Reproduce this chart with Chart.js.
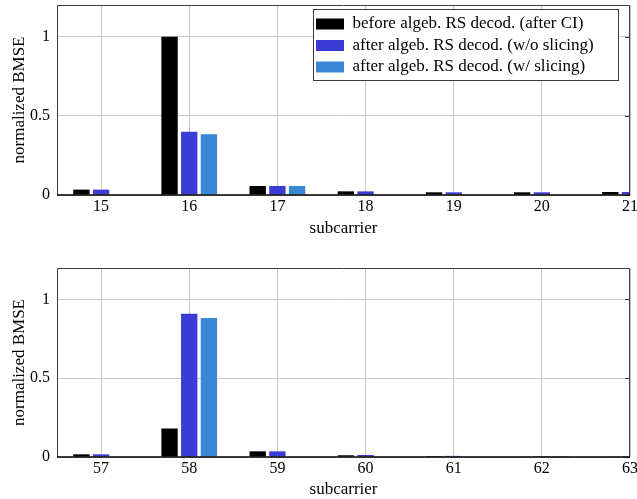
<!DOCTYPE html>
<html>
<head>
<meta charset="utf-8">
<script src="https://cdn.jsdelivr.net/npm/chart.js@4.4.1/dist/chart.umd.min.js"></script>
<style>
  html, body { margin: 0; padding: 0; background: #fff; }
  .panel { position: relative; width: 637px; }
  #topPanel { height: 250px; }
  #bottomPanel { height: 249px; }
</style>
</head>
<body>
<div class="panel" id="topPanel"><canvas id="topChart"></canvas></div>
<div class="panel" id="bottomPanel"><canvas id="bottomChart"></canvas></div>
<script>
// Data
const topSubcarriers = [15, 16, 17, 18, 19, 20, 21];
const bottomSubcarriers = [57, 58, 59, 60, 61, 62, 63];
const yTicks = [0, 0.5, 1];

const seriesNames = [
  "before algeb. RS decod. (after CI)",
  "after algeb. RS decod. (w/o slicing)",
  "after algeb. RS decod. (w/ slicing)",
];
const seriesColors = ["#000000", "#3b3bd5", "#3a87d6"];

const topBefore = [0.034, 1.0, 0.057, 0.023, 0.017, 0.017, 0.019];
const topNoSlicing = [0.034, 0.4, 0.057, 0.023, 0.017, 0.017, 0.019];
const topSlicing = [0.004, 0.383, 0.057, 0.004, 0.004, 0.004, 0.004];

const bottomBefore = [0.017, 0.181, 0.036, 0.011, 0.006, 0.004, 0.004];
const bottomNoSlicing = [0.017, 0.909, 0.036, 0.013, 0.007, 0.006, 0.005];
const bottomSlicing = [0.003, 0.882, 0.003, 0.004, 0.003, 0.006, 0.003];

Chart.defaults.font.family = '"Liberation Serif", "Times New Roman", serif';
Chart.defaults.font.size = 16;
Chart.defaults.color = "#000";

// frame around the plot area + small ticks on the right edge
const framePlugin = {
  id: "frame",
  afterDatasetsDraw(chart) {
    const { ctx, chartArea: a, scales } = chart;
    ctx.save();
    ctx.strokeStyle = "#3c3c3c";
    ctx.lineWidth = 1;
    ctx.beginPath();
    ctx.moveTo(a.left + 0.5, a.bottom);
    ctx.lineTo(a.left + 0.5, a.top + 0.5);
    ctx.lineTo(a.right - 0.5, a.top + 0.5);
    ctx.lineTo(a.right - 0.5, a.bottom);
    yTicks.forEach((v) => {
      const y = Math.round(scales.y.getPixelForValue(v)) + 0.5;
      ctx.moveTo(a.right - 5, y);
      ctx.lineTo(a.right, y);
    });
    ctx.stroke();
    ctx.strokeStyle = "#000";
    ctx.lineWidth = 1.5;
    ctx.beginPath();
    ctx.moveTo(a.left, a.bottom);
    ctx.lineTo(a.right, a.bottom);
    ctx.stroke();
    ctx.restore();
  },
};

// legend placed at top right inside the plot, with a white framed box
const legendBoxPlugin = {
  id: "legendBox",
  afterLayout(chart) {
    const lg = chart.legend;
    if (!lg || !lg.options.display) return;
    const a = chart.chartArea;
    lg.left = a.left + 254.5;
    lg.top = a.top + 6;
    lg.right = a.right - 12;
    lg.bottom = a.top + 76;
    lg.width = lg.right - lg.left;
    lg.height = lg.bottom - lg.top;
  },
  beforeDatasetsDraw(chart) {
    const lg = chart.legend;
    if (!lg || !lg.options.display) return;
    const { ctx, chartArea: a } = chart;
    const x = Math.round(a.left + 256) + 0.5;
    const y = Math.round(a.top + 4) + 0.5;
    const w = Math.round(a.right - 12) - Math.round(a.left + 256);
    const h = 71;
    ctx.save();
    ctx.fillStyle = "#fff";
    ctx.fillRect(x, y, w, h);
    ctx.strokeStyle = "#3c3c3c";
    ctx.lineWidth = 1;
    ctx.strokeRect(x, y, w, h);
    ctx.restore();
    lg.draw();
  },
};

function makeChart(canvasId, categories, values, opts) {
  const ctx = document.getElementById(canvasId).getContext("2d");
  return new Chart(ctx, {
    type: "bar",
    data: {
      labels: categories,
      datasets: values.map((vals, i) => ({
        label: seriesNames[i],
        data: vals,
        backgroundColor: seriesColors[i],
        borderWidth: 0,
        clip: 0,
        categoryPercentage: 0.67,
        barPercentage: 0.83,
      })),
    },
    options: {
      responsive: true,
      maintainAspectRatio: false,
      animation: false,
      layout: { padding: { top: opts.padTop, left: 0, right: 7, bottom: 0 } },
      scales: {
        x: {
          type: "linear",
          min: categories[0] - 0.5,
          max: categories[categories.length - 1],
          offset: false,
          afterBuildTicks: (scale) => {
            scale.ticks = categories.map((v) => ({ value: v }));
          },
          afterFit: (scale) => {
            scale.height = opts.xHeight;
            scale.paddingLeft = 0;
            scale.paddingRight = 0;
          },
          grid: { color: "#c8c8c8", drawTicks: false, offset: false },
          border: { display: false },
          ticks: {
            padding: 2,
            autoSkip: false,
            maxRotation: 0,
            font: { size: 16 },
            callback: (v) => String(v),
          },
          title: {
            display: true,
            text: "subcarrier",
            font: { size: 17, lineHeight: 1 },
            padding: { top: 0, bottom: opts.titlePad },
          },
        },
        y: {
          min: 0,
          max: 1.2,
          afterBuildTicks: (scale) => {
            scale.ticks = yTicks.map((v) => ({ value: v }));
          },
          afterFit: (scale) => {
            scale.width = 57;
            scale.paddingTop = 0;
            scale.paddingBottom = 0;
          },
          grid: { color: "#c8c8c8", drawTicks: false },
          border: { display: false },
          ticks: { padding: 7, font: { size: 16 }, callback: (v) => String(v) },
          title: {
            display: true,
            text: "normalized BMSE",
            font: { size: 17, lineHeight: 1 },
            padding: { top: 11.5, bottom: 0 },
          },
        },
      },
      plugins: {
        legend: {
          display: opts.legend,
          position: "chartArea",
          align: "start",
          labels: {
            boxWidth: 28,
            boxHeight: 11,
            padding: 4.5,
            color: "#000",
            font: { size: 17 },
          },
        },
        tooltip: { enabled: false },
      },
    },
    plugins: [legendBoxPlugin, framePlugin],
  });
}

const topChart = makeChart(
  "topChart",
  topSubcarriers,
  [topBefore, topNoSlicing, topSlicing],
  { padTop: 5, xHeight: 55, titlePad: 13, legend: true }
);

const bottomChart = makeChart(
  "bottomChart",
  bottomSubcarriers,
  [bottomBefore, bottomNoSlicing, bottomSlicing],
  { padTop: 18, xHeight: 42, titlePad: 0.5, legend: false }
);
</script>
</body>
</html>
